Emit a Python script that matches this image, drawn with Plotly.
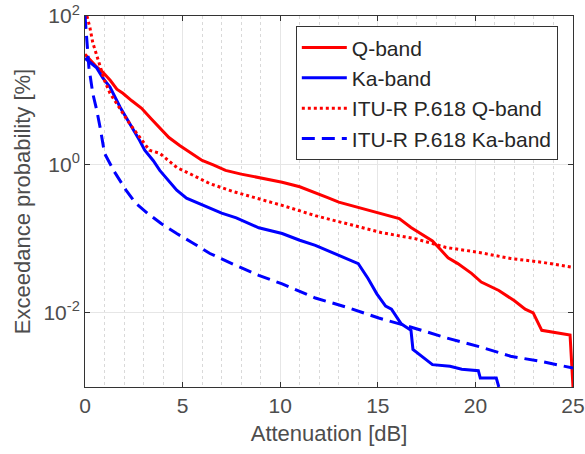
import plotly.graph_objects as go

# Measured Q-band
q_x = [0, 0.6, 0.92, 1.3, 1.63, 1.94, 2.4, 2.9, 3.4, 3.83, 4.3, 4.85, 5.4, 6.0, 6.6, 7.2, 8.0, 8.9, 10.1, 11.0, 11.8, 12.4, 13.0, 14.0, 14.9, 15.5, 16.1, 16.7, 17.2, 17.8, 18.2, 18.6, 19.1, 19.8, 20.3, 21.2, 22.0, 22.55, 22.96, 23.4, 24.85, 25.0]
q_y = [30.6, 20.6, 17.4, 13.5, 10.3, 9.1, 7.2, 5.7, 4.1, 3.06, 2.3, 1.8, 1.45, 1.13, 0.98, 0.83, 0.74, 0.66, 0.575, 0.5, 0.42, 0.36, 0.31, 0.265, 0.225, 0.205, 0.186, 0.141, 0.117, 0.093, 0.072, 0.055, 0.046, 0.034, 0.026, 0.02, 0.0145, 0.0112, 0.01, 0.0058, 0.005, 0.001]

# Measured Ka-band
ka_x = [0, 0.6, 0.92, 1.28, 1.8, 2.3, 2.8, 3.06, 3.5, 3.83, 4.3, 4.7, 5.2, 5.8, 6.4, 7.0, 7.75, 8.9, 10.1, 11.0, 11.8, 12.6, 13.4, 14.0, 14.5, 14.95, 15.4, 15.7, 16.2, 16.7, 16.8, 17.4, 17.8, 18.7, 19.3, 20.15, 20.25, 21.07, 21.2]
ka_y = [27, 20, 14.5, 11, 5.9, 3.55, 2.1, 1.55, 1.12, 0.83, 0.6, 0.45, 0.35, 0.3, 0.26, 0.22, 0.19, 0.14, 0.117, 0.095, 0.081, 0.066, 0.055, 0.046, 0.029, 0.018, 0.0123, 0.0112, 0.0071, 0.0058, 0.0032, 0.0024, 0.002, 0.0019, 0.00174, 0.00166, 0.00132, 0.00132, 0.001]

# ITU-R P.618 Q-band
itu_q_x = [0.1, 0.25, 0.4, 0.6, 0.77, 1.0, 1.28, 1.6, 1.94, 2.3, 2.65, 3.3, 3.83, 4.7, 5.5, 6.4, 7.6, 8.9, 10.1, 11.8, 13.5, 15.2, 16.9, 18.5, 20.2, 21.8, 23.4, 25.0]
itu_q_y = [100, 70, 43.6, 30, 20.4, 13.5, 9.1, 6.6, 4.9, 3.5, 2.63, 1.55, 1.41, 0.91, 0.72, 0.55, 0.43, 0.347, 0.28, 0.204, 0.158, 0.12, 0.1, 0.076, 0.065, 0.054, 0.048, 0.041]

# ITU-R P.618 Ka-band
itu_ka_x = [0.0, 0.1, 0.2, 0.4, 0.6, 0.8, 1.0, 1.5, 2.1, 2.6, 3.2, 3.9, 4.7, 5.5, 6.4, 7.6, 8.9, 10.1, 11.8, 13.5, 15.05, 16.8, 18.5, 20.2, 21.8, 23.4, 25.0]
itu_ka_y = [100, 50, 20.4, 9.0, 5.4, 2.9, 1.41, 0.8, 0.45, 0.3, 0.22, 0.16, 0.117, 0.088, 0.063, 0.045, 0.032, 0.0245, 0.0158, 0.0117, 0.0085, 0.0063, 0.0046, 0.0035, 0.0026, 0.0022, 0.0018]

y_tickvals = [0.01, 1, 100]
y_ticktext = ["10<sup>-2</sup>", "10<sup>0</sup>", "10<sup>2</sup>"]
x_tickvals = [0, 5, 10, 15, 20, 25]

FONT = "Liberation Sans, Arial, sans-serif"

fig = go.Figure()
fig.add_trace(go.Scatter(x=q_x, y=q_y, mode="lines", name="Q-band",
                         line=dict(color="#ff0000", width=3)))
fig.add_trace(go.Scatter(x=ka_x, y=ka_y, mode="lines", name="Ka-band",
                         line=dict(color="#0000ff", width=3)))
fig.add_trace(go.Scatter(x=itu_q_x, y=itu_q_y, mode="lines", name="ITU-R P.618 Q-band",
                         line=dict(color="#ff0000", width=3, dash="dot")))
fig.add_trace(go.Scatter(x=itu_ka_x, y=itu_ka_y, mode="lines", name="ITU-R P.618 Ka-band",
                         line=dict(color="#0000ff", width=3, dash="13px,7px")))

tick_font = dict(family=FONT, size=21, color="#4d4d4d")
title_font = dict(family=FONT, size=22, color="#4d4d4d")
fig.update_layout(
    width=585, height=454,
    margin=dict(l=85, r=12, t=16, b=67),
    plot_bgcolor="white", paper_bgcolor="white",
    font=dict(family=FONT, color="#4d4d4d"),
    legend=dict(x=0.432, y=0.972, xanchor="left", yanchor="top",
                bgcolor="white", bordercolor="#333333", borderwidth=1,
                itemwidth=45,
                font=dict(family=FONT, size=21, color="#262626"), tracegroupgap=0),
)
fig.update_xaxes(range=[0, 25], tickvals=x_tickvals, showline=True, linecolor="#333333",
                 linewidth=1, mirror="ticks", ticks="inside", ticklen=5, tickcolor="#333333",
                 showgrid=True, gridcolor="#e6e6e6", zeroline=False, ticklabeloverflow="allow",
                 automargin=False,
                 minor=dict(dtick=1, showgrid=True, griddash="dot", gridcolor="#d9d9d9", ticks=""),
                 tickfont=tick_font, title=dict(text="Attenuation [dB]", font=title_font, standoff=9))
fig.update_yaxes(type="log", range=[-3, 2], tickvals=y_tickvals, ticktext=y_ticktext,
                 showline=True, linecolor="#333333", linewidth=1, mirror="ticks",
                 ticks="inside", ticklen=5, tickcolor="#333333", ticklabeloverflow="allow",
                 showgrid=True, gridcolor="#e6e6e6", zeroline=False, automargin=False,
                 tickfont=tick_font, title=dict(text="Exceedance probability [%]", font=title_font, standoff=6))

fig.write_html("out.html")
